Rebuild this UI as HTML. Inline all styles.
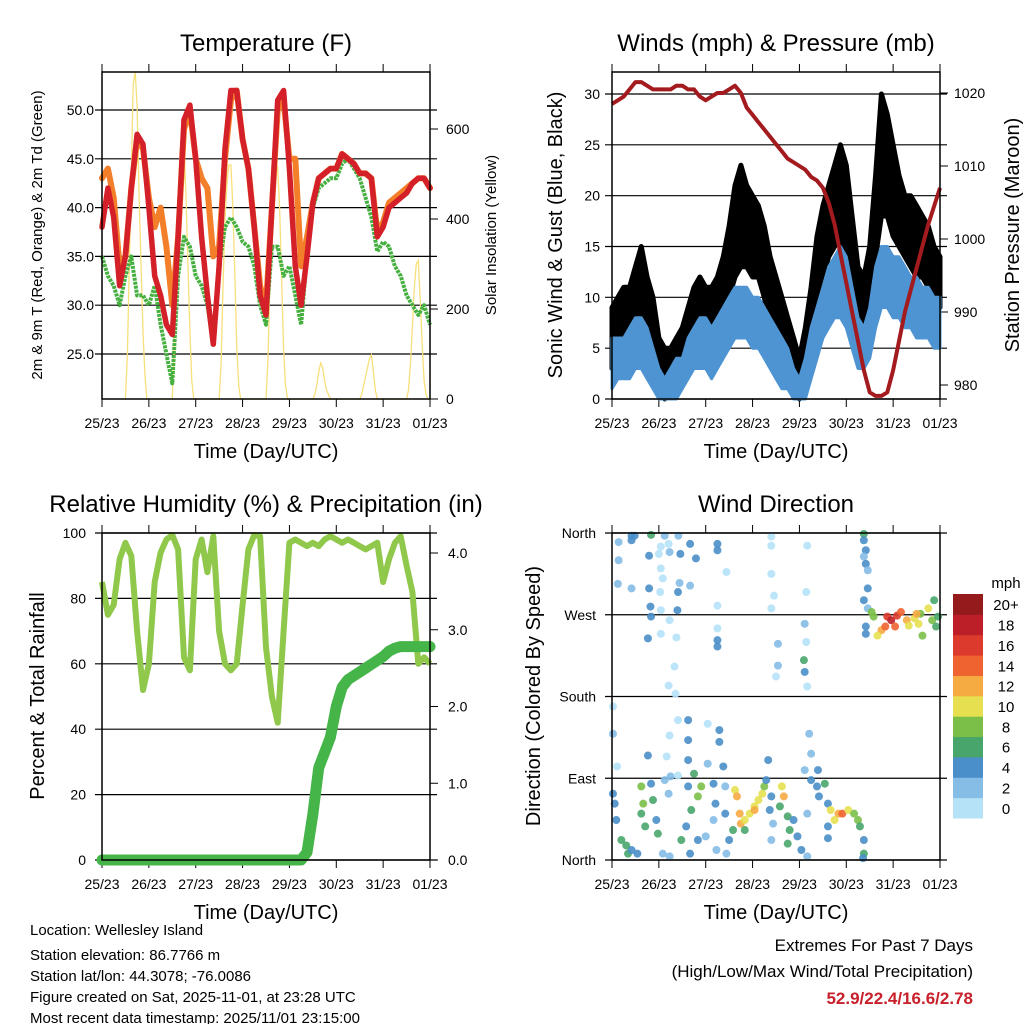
<!DOCTYPE html>
<html><head><meta charset="utf-8"><style>
html,body{margin:0;padding:0;background:#fff;}
svg{display:block;font-family:"Liberation Sans",sans-serif;}
</style></head><body>
<svg id="chart" width="1024" height="1024" viewBox="0 0 1024 1024" xmlns="http://www.w3.org/2000/svg">
<rect width="1024" height="1024" fill="#fff"/>
<g id="g1"></g>
<g id="g2"></g>
<g id="g3"></g>
<g id="g4"></g>
<g font-size="15" fill="#000">
<text x="30" y="935">Location: Wellesley Island</text>
<text x="30" y="960">Station elevation: 86.7766 m</text>
<text x="30" y="981">Station lat/lon: 44.3078; -76.0086</text>
<text x="30" y="1002">Figure created on Sat, 2025-11-01, at 23:28 UTC</text>
<text x="30" y="1023">Most recent data timestamp: 2025/11/01 23:15:00</text>
</g>
<g text-anchor="end">
<text x="973" y="951" font-size="17">Extremes For Past 7 Days</text>
<text x="973" y="977" font-size="17">(High/Low/Max Wind/Total Precipitation)</text>
<text x="973" y="1004" font-size="17" font-weight="bold" fill="#c8202a">52.9/22.4/16.6/2.78</text>
</g>
</svg>
<script>
// ---- shared x axis ----
const dayLabels = ["25/23","26/23","27/23","28/23","29/23","30/23","31/23","01/23"];
// 3-hourly timestamps (hours since start)
const hours3 = [0,3,6,9,12,15,18,21,24,27,30,33,36,39,42,45,48,51,54,57,60,63,66,69,72,75,78,81,84,87,90,93,96,99,102,105,108,111,114,117,120,123,126,129,132,135,138,141,144,147,150,153,156,159,162,165,168];
// ---- temperature ----
const tempRed = [38,42,39,32,35,42,47.5,46.5,40,33,31,28,27,37,49,50.5,45,37,31,26,34,46,52,52,47,44,38,31,29,40,51,52,44,34,30,35,40.5,43,43.5,44,44,45.5,45,44.5,43.5,43.5,43,37,38,40,40.5,41,41.5,42.5,43,43,42];
const tempOrange = [43,44,41,34,35,42,47,46,41,38,40,36,30,37,48,50,45,43,42,35,36,45,51,52,47,44,38,32,30,40,50,51,45,45,34,37,40.5,43,43.5,44,44,45.5,45,44.5,43.5,43.5,43,37.5,38.5,40.5,41,41.5,42,42.5,43,43,42];
const dewGreen = [35,33,32,30,33,35,31,31,30,32,28,25,22,33,37,36,33,32,30,26,34,38,39,38,36.5,36,34,30,28,36,36,33,34,31,28,35,40,42,42.5,43,43,44.5,45,44,43,41,39,35.5,36.5,36,34,33,31,30,29,30,28];
// solar insolation, hourly values for UTC hours 12..23 of each day
const solarDays = [
 [0,100,300,500,700,740,650,450,300,150,50,0],
 [0,120,300,450,550,580,560,450,300,150,40,0],
 [0,80,250,400,480,520,520,430,280,120,30,0],
 [0,90,260,410,490,520,515,420,270,110,30,0],
 [0,10,30,60,80,70,40,20,10,0,0,0],
 [0,10,30,50,70,90,98,60,20,0,0,0],
 [0,20,80,160,250,300,308,220,120,40,10,0]];
const tempTicks = [25,30,35,40,45,50];
const solarTicks = [0,200,400,600];
// ---- winds ----
const windLo = [1,2,2,2,3,3,2,1,0,0,0,0,1,2,3,3,3,2,3,4,5,6,6,6,5,5,4,3,2,1,1,0,0,0,2,4,6,7,8,8,7,5,3,3,4,7,9,9,8,8,7,7,6,6,6,5,5];
const windHi = [6,6,6,7,8,8,7,5,3,2,3,4,4,6,7,8,8,7,8,9,10,11,11,11,10,10,9,8,7,6,5,3,2,4,7,9,11,13,14,15,14,11,8,7,9,13,15,15,14,14,13,12,12,11,11,10,10];
const gustLo = [3,5,5,6,7,7,6,4,1,0,1,2,2,4,6,6,6,5,6,8,10,12,13,13,12,12,10,7,5,4,3,1,0,2,5,8,12,14,15,16,14,10,7,6,8,14,18,18,16,15,14,13,12,12,11,9,9];
const gustHi = [9,10,11,11,13,15,12,10,6,5,5,6,7,9,11,12,11,11,12,14,17,21,23,21,20,19,17,14,12,10,8,6,4,7,11,16,19,21,23,25,23,18,13,12,15,22,30,28,25,22,20,20,19,18,17,15,14];
const pressure = [1018.5,1019,1019.5,1020.5,1021.5,1021.5,1021,1020.5,1020.5,1020.5,1020.5,1021,1021,1020.5,1020.5,1019.5,1019,1019.5,1020,1020,1020.5,1021,1020,1018,1017,1016,1015,1014,1013,1012,1011,1010.5,1010,1009.5,1008.5,1008,1007,1005,1002,998,994,990,986,982,979,978.5,978.5,979,982,986,990,993,996,999,1002,1004.5,1007];
const windTicks = [0,5,10,15,20,25,30];
const pressTicks = [980,990,1000,1010,1020];
// ---- humidity / precip ----
const rh = [85,75,78,92,97,93,70,52,60,85,94,98,100,95,62,58,92,98,88,99,70,60,58,60,78,95,100,99,65,50,42,70,97,98,97,96,97,96,98,99,98,97,98,97,96,95,96,97,85,92,97,99,90,82,60,62,60];
const precip = [0,0,0,0,0,0,0,0,0,0,0,0,0,0,0,0,0,0,0,0,0,0,0,0,0,0,0,0,0,0,0,0,0,0,0,0.1,0.6,1.2,1.4,1.6,2.0,2.25,2.35,2.4,2.45,2.5,2.55,2.6,2.65,2.72,2.76,2.78,2.78,2.78,2.78,2.78,2.78];
const rhTicks = [0,20,40,60,80,100];
const precipTicks = ["0.0","1.0","2.0","3.0","4.0"];
// ---- wind direction ----
const dirLabels = ["North","East","South","West","North"];
const speedLabels = ["0","2","4","6","8","10","12","14","16","18","20+"];
const dirTime = [10,11.6,10,20,27,25,29,24,29.5,34,40,35,43,3.4,3.4,3,10,19,19,19.7,20,18.4,25,26,24.7,25,29.5,25,33,32,29,32.5,34.6,33.8,40,33.5,54,54,58.6,54,54,54,54,81.6,81.6,81.6,83,81.6,85,85,84,100,99.5,98.7,99.5,98.3,98.7,100,129,129,130,129,130,131,131,129,131,130,130,133,134,138,136,141,143,146,148,151,155,157,158,162,164,165,167,166,156,145,140,152,159,0.5,0.5,2.6,0.5,1.4,2.2,4.8,8.2,10,7.3,13,15,16,15,17,20,21,22.7,18.4,23.5,26,29.5,28,29.5,30,33.8,27,29,33.8,39,39,39,39,40.6,42,44,45.7,38,35.5,40,44,49,49,52,53,52,48,55,55,57,58,58,53.5,58.6,60,63,64,65.4,66,68,70.5,73,75,77,73,68,62,78,79,80,81.6,80.8,82.5,81.6,87,88,86,90,91,90,93,95,97,100,100,101,102,98.7,102,105,106,109,110.6,110.6,110.6,112,116,118,114,121,124,126,127,129,129,128.6,105.5];
const dirDeg = [357,357,352,358,357,345,348,337,339,357,348,337,332,350,330,304,299,335,299,279,268,244,321,310,295,275,264,249,245,213,192,183,305,295,302,275,348,341,317,280,255,242,235,356,346,315,291,277,238,214,202,346,295,260,240,220,207,191,359,352,341,334,326,319,299,286,277,257,249,273,268,253,247,268,264,269,273,264,266,260,271,277,264,286,268,257,271,257,257,258,247,169,139,103,73,62,44,22,7,11,16,7,81,62,51,37,84,66,44,115,29,7,4,114,137,92,93,88,73,154,154,132,110,81,55,95,70,81,37,22,7,22,150,106,84,62,44,26,143,130,103,81,51,11,7,22,77,70,51,40,44,51,59,66,73,55,33,33,81,88,110,70,55,40,22,81,70,59,48,33,18,44,26,11,4,51,139,117,99,88,81,70,84,62,37,24,55,51,51,44,55,51,44,37,22,7,2,99];
const dirSpeed = [4,4,4,6,2,0,0,0,2,2,4,4,4,2,2,2,2,4,4,4,4,4,0,0,0,0,0,0,0,0,0,0,2,4,2,4,4,4,0,0,0,4,4,0,0,0,0,0,2,2,0,0,0,2,0,6,4,0,6,4,4,2,4,2,4,4,2,4,4,8,8,12,10,16,18,16,14,12,10,10,8,10,8,6,6,6,12,14,14,10,8,0,2,0,4,4,4,6,6,4,6,4,8,8,6,6,4,6,4,4,6,2,2,0,0,2,0,2,2,0,4,4,4,4,6,6,8,8,4,6,4,4,0,2,4,4,2,2,4,4,4,2,4,2,2,4,10,12,12,12,10,10,10,10,10,12,6,6,8,4,4,4,4,2,2,10,12,6,6,6,6,4,4,4,2,2,2,2,2,4,4,4,6,4,4,4,10,12,14,10,10,8,8,6,4,6,4,4];

const NS="http://www.w3.org/2000/svg";
function el(parent,tag,attrs,txt){const e=document.createElementNS(NS,tag);for(const k in attrs)e.setAttribute(k,attrs[k]);if(txt!==undefined)e.textContent=txt;parent.appendChild(e);return e;}
function lin(d0,d1,r0,r1){return v=>r0+(v-d0)*(r1-r0)/(d1-d0);}

function frame(g,P,title,xTitle){
  const xs=lin(0,168,P.x0,P.x1);
  const t=el(g,'text',{x:(P.x0+P.x1)/2,y:P.y0-21,'font-size':24,'text-anchor':'middle'},title);
  
  
  const xt=el(g,'text',{x:(P.x0+P.x1)/2,y:P.y1+59,'font-size':20,'text-anchor':'middle'},xTitle);
  
  
  dayLabels.forEach((lab,i)=>{
    const x=xs(i*24);
    const tk=el(g,'line',{x1:x,x2:x,y1:P.y1,y2:P.y1+8,stroke:'#000','stroke-width':1});
    
    
    el(g,'line',{x1:x,x2:x,y1:P.y0,y2:P.y0-8,stroke:'#000','stroke-width':1});
    const tl=el(g,'text',{x:x,y:P.y1+29,'font-size':14,'text-anchor':'middle'},lab);
    
    
  });
  return xs;
}
function box(g,P){
  const b=el(g,'rect',{x:P.x0,y:P.y0,width:P.x1-P.x0,height:P.y1-P.y0,fill:'none',stroke:'#000','stroke-width':1.5});
  
  
}
function grid(g,P,y){
  const l=el(g,'line',{x1:P.x0-7,x2:P.x1+7,y1:y,y2:y,stroke:'#000','stroke-width':1.2});
  
  
}
function pathOf(xsArr,ysArr){return xsArr.map((x,i)=>(i?'L':'M')+x.toFixed(1)+','+ysArr[i].toFixed(1)).join('');}
function yTitle(g,x,y,txt,size,name){
  const t=el(g,'text',{x:x,y:y,'font-size':size,'text-anchor':'middle',transform:`rotate(-90 ${x} ${y})`},txt);
  
  
}

// ===== Panel 1 =====
(function(){
  const g=document.getElementById('g1');
  const P={x0:102,x1:430,y0:72,y1:399};
  const xs=frame(g,P,'Temperature (F)','Time (Day/UTC)');
  const ys=lin(25,50,354,110);
  const ss=lin(0,600,399,129);
  tempTicks.forEach(v=>{grid(g,P,ys(v));
    const t=el(g,'text',{x:P.x0-8,y:ys(v)+5,'font-size':14,'text-anchor':'end'},v.toFixed(1));
    
    });
  solarTicks.forEach(v=>{
    el(g,'line',{x1:P.x1,x2:P.x1+8,y1:ss(v),y2:ss(v),stroke:'#000'});
    const t=el(g,'text',{x:P.x1+16,y:ss(v)+5,'font-size':14},String(v));
    
    });
  yTitle(g,42,235,'2m & 9m T (Red, Orange) & 2m Td (Green)',15,'left-axis-title');
  yTitle(g,496,235,'Solar Insolation (Yellow)',15,'right-axis-title');
  const cy=v=>Math.max(P.y0,ys(v));
  const sx=[],sy=[];
  solarDays.forEach((day,d)=>{
    sx.push(xs(d*24+11));sy.push(ss(0));
    day.forEach((v,h)=>{sx.push(xs(d*24+12+h));sy.push(Math.max(P.y0,ss(v)));});
  });
  sx.push(xs(168));sy.push(ss(0));
  const so=el(g,'path',{d:pathOf(sx,sy),fill:'none',stroke:'#f7e07a','stroke-width':1.3});
  
  
  const o=el(g,'path',{d:pathOf(hours3.map(xs),tempOrange.map(cy)),fill:'none',stroke:'#f47f2a','stroke-width':6,'stroke-linejoin':'round','stroke-linecap':'round'});
  
  
  const gr=el(g,'path',{d:pathOf(hours3.map(xs),dewGreen.map(cy)),fill:'none',stroke:'#45b03f','stroke-width':4,'stroke-linejoin':'round','stroke-dasharray':'3 1'});
  
  
  const r=el(g,'path',{d:pathOf(hours3.map(xs),tempRed.map(cy)),fill:'none',stroke:'#d42028','stroke-width':5.5,'stroke-linejoin':'round','stroke-linecap':'round'});
  
  
  box(g,P);
})();

// ===== Panel 2 =====
(function(){
  const g=document.getElementById('g2');
  const P={x0:612,x1:940,y0:72,y1:399};
  const xs=frame(g,P,'Winds (mph) & Pressure (mb)','Time (Day/UTC)');
  const ys=lin(0,30,399,94);
  const ps=lin(980,1020,385,93);
  windTicks.forEach(v=>{grid(g,P,ys(v));
    const t=el(g,'text',{x:P.x0-12,y:ys(v)+5,'font-size':14,'text-anchor':'end'},String(v));
    
    });
  pressTicks.forEach(v=>{
    el(g,'line',{x1:P.x1,x2:P.x1+8,y1:ps(v),y2:ps(v),stroke:'#000'});
    const t=el(g,'text',{x:P.x1+14,y:ps(v)+5,'font-size':14},String(v));
    
    });
  yTitle(g,562,235,'Sonic Wind & Gust (Blue, Black)',20,'left-axis-title');
  yTitle(g,1019,235,'Station Pressure (Maroon)',20,'right-axis-title');
  const X=hours3.map(xs);
  function band(lo,hi,color,name,sw){
    const top=pathOf(X,hi.map(ys));
    const bot=X.slice().reverse().map((x,i)=>'L'+x.toFixed(1)+','+ys(lo[lo.length-1-i]).toFixed(1)).join('');
    const p=el(g,'path',{d:top+bot+'Z',fill:color,stroke:color,'stroke-width':sw,'stroke-linejoin':'round'});
    
    
  }
  band(gustLo,gustHi,'#000','gust-black-band',5);
  band(windLo,windHi,'#4f94d2','sonic-wind-blue-band',3);
  const pr=el(g,'path',{d:pathOf(X,pressure.map(ps)),fill:'none',stroke:'#a31b1f','stroke-width':4,'stroke-linejoin':'round'});
  
  
  box(g,P);
})();

// ===== Panel 3 =====
(function(){
  const g=document.getElementById('g3');
  const P={x0:102,x1:430,y0:533,y1:860};
  const xs=frame(g,P,'Relative Humidity (%) & Precipitation (in)','Time (Day/UTC)');
  const ys=lin(0,100,860,533);
  const ps=lin(0,4,860,553);
  rhTicks.forEach(v=>{grid(g,P,ys(v));
    const t=el(g,'text',{x:P.x0-16,y:ys(v)+5,'font-size':14,'text-anchor':'end'},String(v));
    
    });
  precipTicks.forEach(s=>{const v=parseFloat(s);
    el(g,'line',{x1:P.x1,x2:P.x1+8,y1:ps(v),y2:ps(v),stroke:'#000'});
    const t=el(g,'text',{x:P.x1+18,y:ps(v)+5,'font-size':14},s);
    
    });
  yTitle(g,44,696,'Percent & Total Rainfall',20,'left-axis-title');
  const X=hours3.map(xs);
  const r=el(g,'path',{d:pathOf(X,rh.map(v=>Math.max(P.y0+2,ys(v)))),fill:'none',stroke:'#8fc84b','stroke-width':6,'stroke-linejoin':'round'});
  
  
  const p=el(g,'path',{d:pathOf(X,precip.map(ps)),fill:'none',stroke:'#45b449','stroke-width':11,'stroke-linejoin':'round','stroke-linecap':'round'});
  
  
  box(g,P);
})();

// ===== Panel 4 =====
(function(){
  const g=document.getElementById('g4');
  const P={x0:612,x1:940,y0:533,y1:860};
  const xs=frame(g,P,'Wind Direction','Time (Day/UTC)');
  const ys=lin(0,360,860,533);
  const colors=['#b6e2f8','#85bde6','#4a8fc9','#48a66c','#7bbf48','#e6e050','#f6aa42','#ef6330','#dc3a2c','#bd1f28','#941a1c'];
  dirLabels.forEach((lab,i)=>{const y=ys(i*90);grid(g,P,y);
    const t=el(g,'text',{x:P.x0-16,y:y+5,'font-size':14,'text-anchor':'end'},lab);
    
    });
  yTitle(g,540,696,'Direction (Colored By Speed)',20,'left-axis-title');
  dirTime.forEach((t,i)=>{
    const idx=Math.min(10,Math.round(dirSpeed[i]/2));
    const c=el(g,'circle',{cx:xs(t),cy:ys(dirDeg[i]),r:4,fill:colors[idx],'fill-opacity':0.9});
    
    
  });
  box(g,P);
  const cb=el(g,'g',{});
  
  
  const h=224/11;
  speedLabels.forEach((lab,i)=>{
    const y=818-(i+1)*h;
    const r=el(cb,'rect',{x:953,y:y,width:30,height:h+0.5,fill:colors[i]});
    
    
    const t=el(cb,'text',{x:1006,y:y+h/2+6,'font-size':15,'text-anchor':'middle'},lab);
    
    
  });
  const u=el(cb,'text',{x:1006,y:588,'font-size':15,'text-anchor':'middle'},'mph');
  
  
})();
</script>
</body></html>
